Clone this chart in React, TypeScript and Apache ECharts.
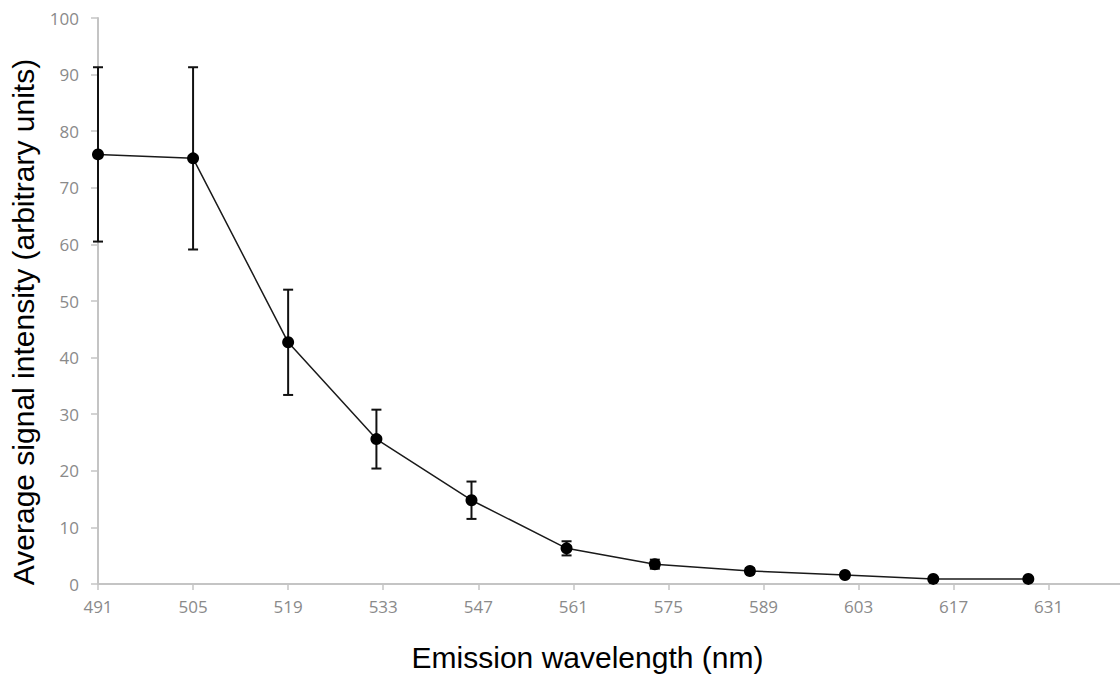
import React, { useEffect, useRef } from "react";
import * as echarts from "echarts";

const wavelengths = [491, 505, 519, 532, 546, 560, 573, 587, 601, 614, 628];
const intensity = [75.9, 75.2, 42.7, 25.6, 14.8, 6.3, 3.5, 2.3, 1.6, 0.9, 0.9];
const errors = [15.4, 16.1, 9.3, 5.2, 3.3, 1.25, 0.8, 0.5, 0.4, 0.3, 0.3];
const xTicks = [491, 505, 519, 533, 547, 561, 575, 589, 603, 617, 631];

export default function App() {
  const ref = useRef<HTMLDivElement>(null);
  useEffect(() => {
    if (!ref.current) return;
    const chart = echarts.init(ref.current, null, { renderer: "svg" });
    const points = wavelengths.map((w, i) => [w, intensity[i]]);
    const errData = wavelengths.map((w, i) => [w, intensity[i] - errors[i], intensity[i] + errors[i]]);
    const labelFont = "'Open Sans', 'Liberation Sans', sans-serif";
    const nameFont = "'Liberation Sans', Arial, sans-serif";
    chart.setOption({
      animation: false,
      backgroundColor: "#ffffff",
      grid: { left: 97, right: 0, top: 18, bottom: 92 },
      xAxis: {
        type: "value",
        min: 491,
        max: 641.5,
        name: "Emission wavelength (nm)",
        nameLocation: "middle",
        nameGap: 58,
        nameTextStyle: { fontSize: 30, color: "#000", fontFamily: nameFont, padding: [0, 43, 0, 0] },
        axisLine: { show: true, lineStyle: { color: "#c4c4c4", width: 2 } },
        axisTick: { show: true, length: 6, lineStyle: { color: "#c4c4c4", width: 1.5 }, customValues: xTicks },
        axisLabel: { color: "#8a8a8a", fontSize: 17, fontFamily: labelFont, margin: 14, customValues: xTicks },
        splitLine: { show: false },
      },
      yAxis: {
        type: "value",
        min: 0,
        max: 100,
        interval: 10,
        name: "Average signal intensity (arbitrary units)",
        nameLocation: "middle",
        nameGap: 60,
        nameTextStyle: { fontSize: 30, color: "#000", fontFamily: nameFont, padding: [0, 42, 0, 0] },
        axisLine: { show: true, lineStyle: { color: "#c4c4c4", width: 2 } },
        axisTick: { show: true, length: 7, lineStyle: { color: "#c4c4c4", width: 1.5 } },
        axisLabel: { color: "#8a8a8a", fontSize: 17, fontFamily: labelFont, margin: 19 },
        splitLine: { show: false },
      },
      series: [
        {
          type: "custom",
          data: errData,
          z: 3,
          renderItem: (params: any, api: any) => {
            const x = api.value(0);
            const lo = api.coord([x, api.value(1)]);
            const hi = api.coord([x, api.value(2)]);
            const hw = 5;
            const style = { stroke: "#111", lineWidth: 2 };
            return {
              type: "group",
              children: [
                { type: "line", shape: { x1: lo[0], y1: lo[1], x2: hi[0], y2: hi[1] }, style },
                { type: "line", shape: { x1: lo[0] - hw, y1: lo[1], x2: lo[0] + hw, y2: lo[1] }, style },
                { type: "line", shape: { x1: hi[0] - hw, y1: hi[1], x2: hi[0] + hw, y2: hi[1] }, style },
              ],
            };
          },
        },
        {
          type: "line",
          data: points,
          z: 4,
          symbol: "circle",
          symbolSize: 12,
          itemStyle: { color: "#000" },
          lineStyle: { color: "#1a1a1a", width: 1.5 },
        },
      ],
    });
    return () => chart.dispose();
  }, []);
  return (
    <div
      ref={ref}
      style={{ position: "fixed", left: 0, top: 0, width: 1120, height: 677, background: "#fff" }}
    />
  );
}
